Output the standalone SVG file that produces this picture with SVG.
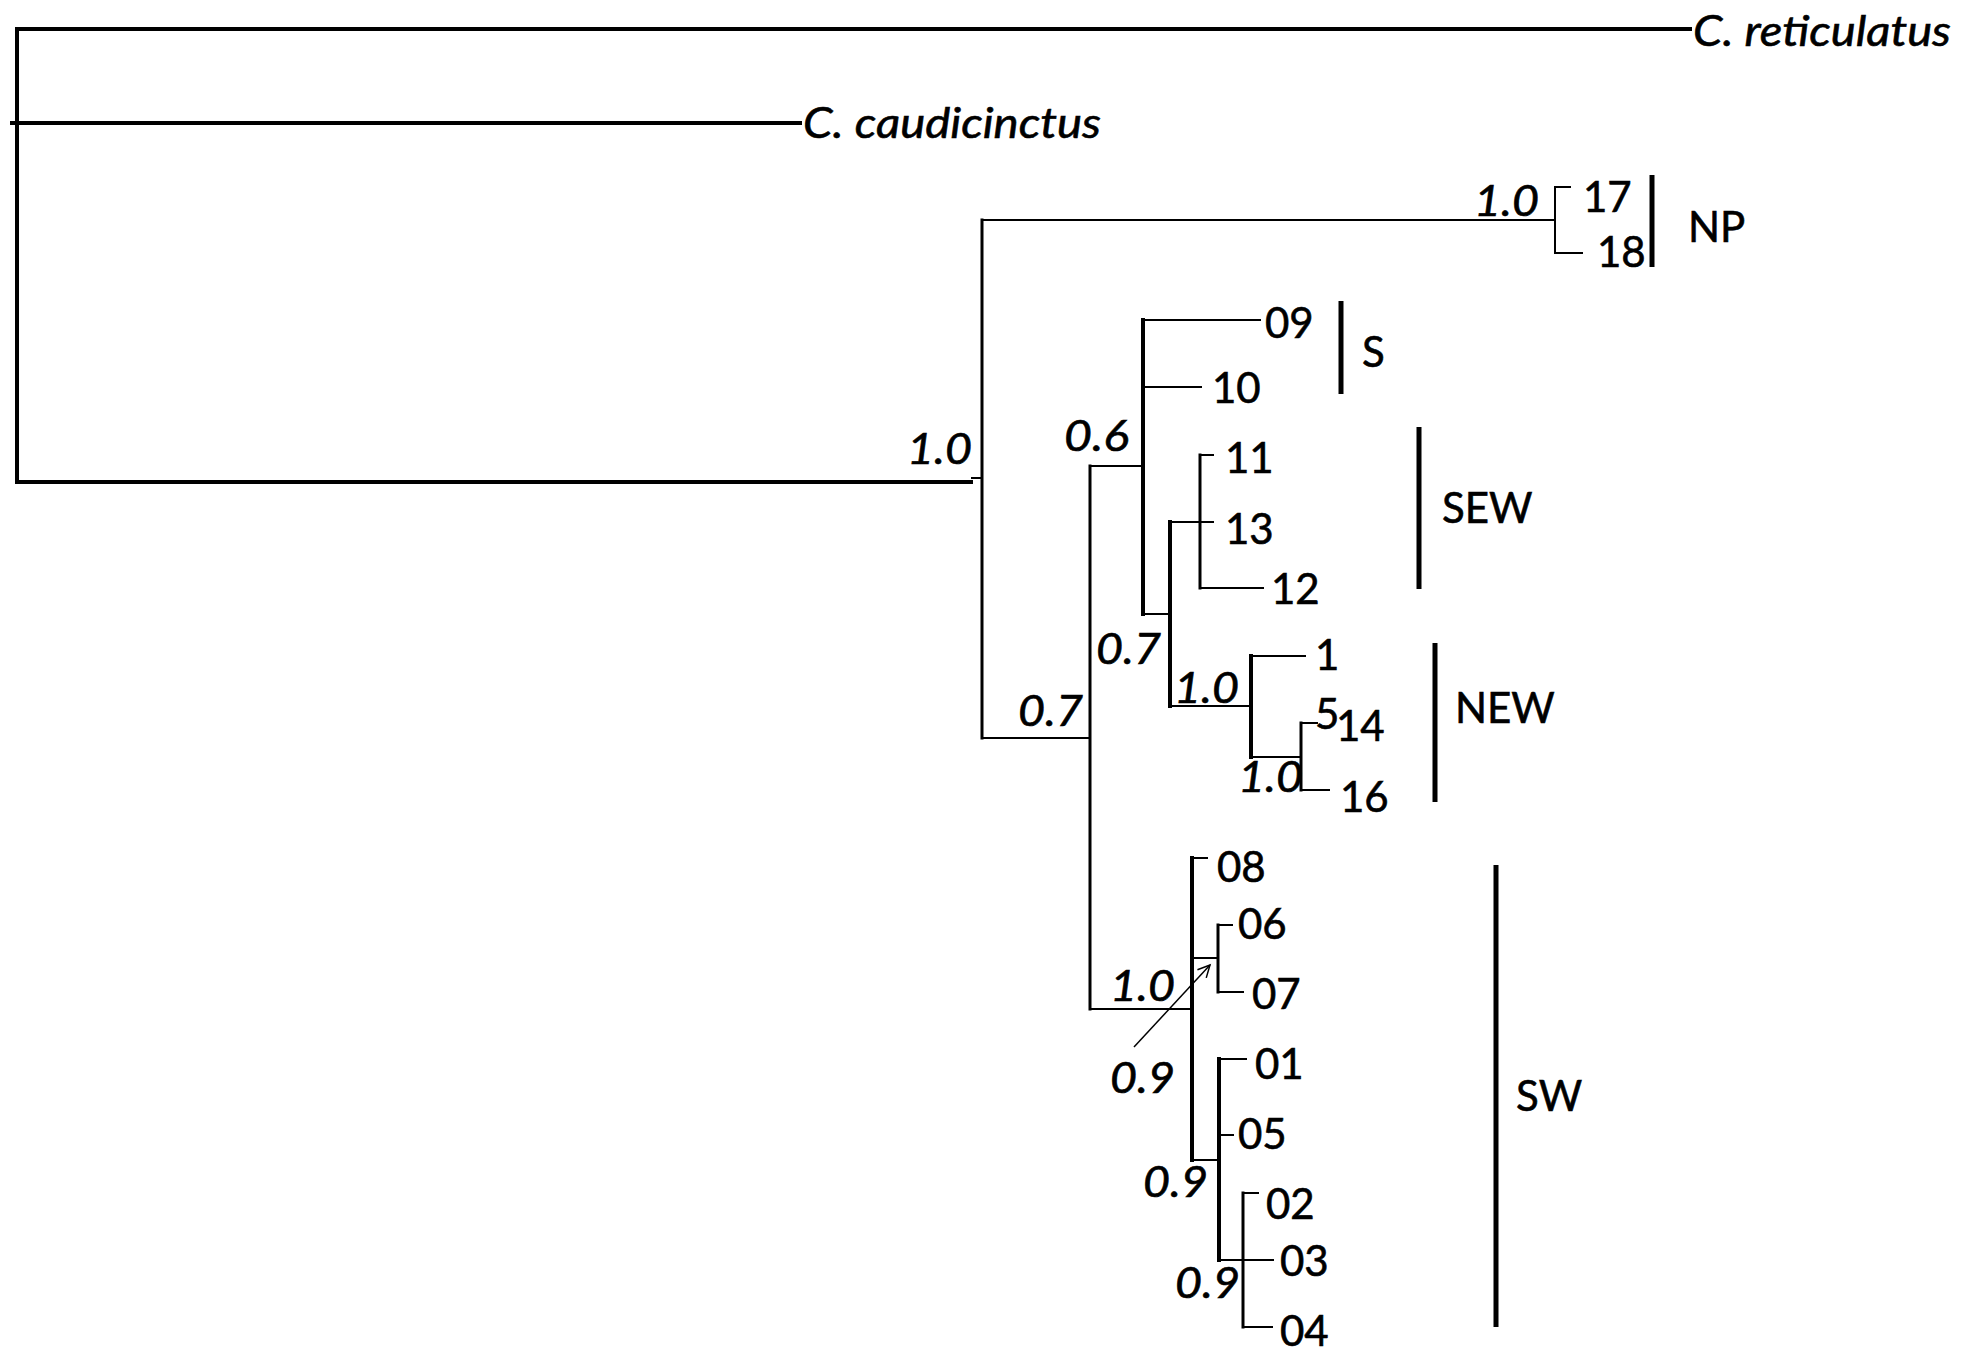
<svg xmlns="http://www.w3.org/2000/svg" width="1970" height="1360" viewBox="0 0 1970 1360">
<style>
  .br{fill:none;stroke:#000;stroke-linecap:square}
  .w4{stroke-width:4}
  .w3{stroke-width:3}
  .w2{stroke-width:2}
  .bar{fill:none;stroke:#000;stroke-width:5}
  text{font-family:Lato,"Liberation Sans",sans-serif;font-size:42px;fill:#000;stroke:#000;stroke-width:0.6}
  .it{font-style:italic}
</style>
<defs>
  <marker id="arr" markerUnits="userSpaceOnUse" markerWidth="16" markerHeight="16" refX="13" refY="7" orient="auto">
    <path d="M1,1 L13,7 L1,13" fill="none" stroke="#000" stroke-width="1.5"/>
  </marker>
</defs>
<rect width="1970" height="1360" fill="#fff"/>

<g id="connectors">
  <!-- root -->
  <path class="br w4" d="M17 29 V482"/>
  <path class="br w4" d="M17 29 H1690"/>
  <path class="br w4" d="M12 123 H800"/>
  <path class="br w4" d="M17 482 H971"/>
  <path class="br w2" d="M972 478 H982"/>
  <!-- node A -->
  <path class="br w3" d="M982 220 V738"/>
  <path class="br w2" d="M982 220 H1555"/>
  <path class="br w2" d="M1570 187 H1555 V253 H1582"/>
  <path class="br w2" d="M982 738 H1090"/>
  <!-- node B -->
  <path class="br w3" d="M1090 466 V1009"/>
  <path class="br w2" d="M1090 466 H1143"/>
  <path class="br w2" d="M1090 1009 H1192"/>
  <!-- node C -->
  <path class="br w4" d="M1143 320 V614"/>
  <path class="br w2" d="M1143 320 H1260"/>
  <path class="br w2" d="M1143 387 H1201"/>
  <path class="br w2" d="M1143 614 H1170"/>
  <!-- node D -->
  <path class="br w4" d="M1170 522 V706"/>
  <path class="br w2" d="M1170 522 H1213"/>
  <path class="br w2" d="M1170 706 H1250"/>
  <!-- node E -->
  <path class="br w3" d="M1200 455 V588"/>
  <path class="br w2" d="M1200 455 H1213"/>
  <path class="br w2" d="M1200 588 H1263"/>
  <!-- node F -->
  <path class="br w4" d="M1251 656 V757"/>
  <path class="br w2" d="M1251 656 H1305"/>
  <path class="br w2" d="M1251 757 H1301"/>
  <!-- node G -->
  <path class="br w3" d="M1301 723 V790"/>
  <path class="br w2" d="M1301 723 H1317"/>
  <path class="br w2" d="M1301 790 H1329"/>
  <!-- node H -->
  <path class="br w4" d="M1192 858 V1160"/>
  <path class="br w2" d="M1192 858 H1207"/>
  <path class="br w2" d="M1192 958 H1218"/>
  <path class="br w2" d="M1192 1160 H1218"/>
  <!-- node I -->
  <path class="br w3" d="M1218 925 V992"/>
  <path class="br w2" d="M1218 925 H1232"/>
  <path class="br w2" d="M1218 992 H1243"/>
  <!-- node J -->
  <path class="br w4" d="M1219 1059 V1260"/>
  <path class="br w2" d="M1219 1059 H1246"/>
  <path class="br w2" d="M1219 1135 H1233"/>
  <path class="br w2" d="M1219 1260 H1273"/>
  <!-- node K -->
  <path class="br w3" d="M1243 1193 V1327"/>
  <path class="br w2" d="M1243 1193 H1258"/>
  <path class="br w2" d="M1243 1327 H1272"/>
  <!-- pointer arrow -->
  <line x1="1134" y1="1047" x2="1210" y2="965" stroke="#000" stroke-width="1.5" marker-end="url(#arr)"/>
</g>

<g id="outgroups">
  <g id="taxon-reticulatus"><text class="it" x="1693" y="46" textLength="258" lengthAdjust="spacingAndGlyphs">C. reticulatus</text></g>
  <g id="taxon-caudicinctus"><text class="it" x="803" y="138" textLength="298" lengthAdjust="spacingAndGlyphs">C. caudicinctus</text></g>
</g>

<g id="support">
  <text class="it" x="907" y="464" textLength="65" lengthAdjust="spacingAndGlyphs">1.0</text>
  <text class="it" x="1474" y="216" textLength="65" lengthAdjust="spacingAndGlyphs">1.0</text>
  <text class="it" x="1018" y="726" textLength="65" lengthAdjust="spacingAndGlyphs">0.7</text>
  <text class="it" x="1064" y="451" textLength="65" lengthAdjust="spacingAndGlyphs">0.6</text>
  <text class="it" x="1096" y="664" textLength="65" lengthAdjust="spacingAndGlyphs">0.7</text>
  <text class="it" x="1174" y="703" textLength="65" lengthAdjust="spacingAndGlyphs">1.0</text>
  <text class="it" x="1238" y="792" textLength="65" lengthAdjust="spacingAndGlyphs">1.0</text>
  <text class="it" x="1110" y="1001" textLength="65" lengthAdjust="spacingAndGlyphs">1.0</text>
  <text class="it" x="1110" y="1093" textLength="65" lengthAdjust="spacingAndGlyphs">0.9</text>
  <text class="it" x="1143" y="1197" textLength="65" lengthAdjust="spacingAndGlyphs">0.9</text>
  <text class="it" x="1175" y="1298" textLength="65" lengthAdjust="spacingAndGlyphs">0.9</text>
</g>

<g id="leaves">
  <g id="leaf-17"><text x="1583" y="212">17</text></g>
  <g id="leaf-18"><text x="1597" y="267">18</text></g>
  <g id="leaf-09"><text x="1265" y="338">09</text></g>
  <g id="leaf-10"><text x="1212" y="403">10</text></g>
  <g id="leaf-11"><text x="1225" y="473">11</text></g>
  <g id="leaf-13"><text x="1225" y="544">13</text></g>
  <g id="leaf-12"><text x="1271" y="604">12</text></g>
  <g id="leaf-1"><text x="1315" y="670">1</text></g>
  <g id="leaf-5"><text x="1315" y="729">5</text></g>
  <g id="leaf-14"><text x="1336" y="741">14</text></g>
  <g id="leaf-16"><text x="1340" y="812">16</text></g>
  <g id="leaf-08"><text x="1217" y="882">08</text></g>
  <g id="leaf-06"><text x="1238" y="939">06</text></g>
  <g id="leaf-07"><text x="1252" y="1009">07</text></g>
  <g id="leaf-01"><text x="1255" y="1079">01</text></g>
  <g id="leaf-05"><text x="1238" y="1149">05</text></g>
  <g id="leaf-02"><text x="1266" y="1219">02</text></g>
  <g id="leaf-03"><text x="1280" y="1276">03</text></g>
  <g id="leaf-04"><text x="1280" y="1346">04</text></g>
</g>

<g id="clades">
  <g id="clade-NP"><path class="bar" d="M1652 175 V267"/><text x="1688" y="242">NP</text></g>
  <g id="clade-S"><path class="bar" d="M1341 301 V394"/><text x="1362" y="367">S</text></g>
  <g id="clade-SEW"><path class="bar" d="M1419 427 V589"/><text x="1442" y="523">SEW</text></g>
  <g id="clade-NEW"><path class="bar" d="M1435 643 V802"/><text x="1455" y="723">NEW</text></g>
  <g id="clade-SW"><path class="bar" d="M1496 865 V1327"/><text x="1516" y="1111">SW</text></g>
</g>
</svg>
